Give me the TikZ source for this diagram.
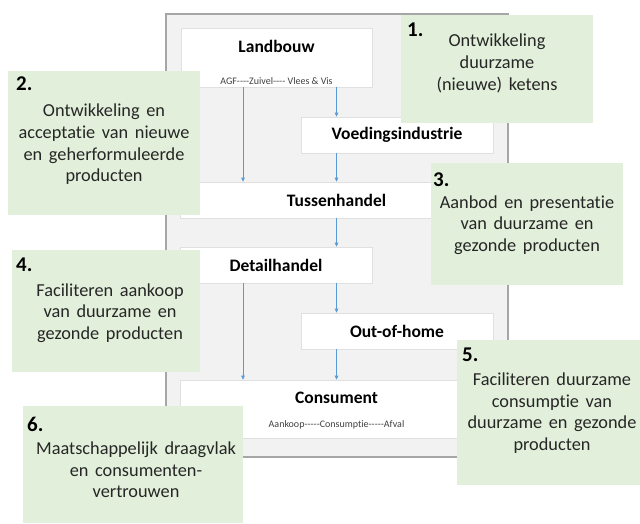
\documentclass[tikz,border=0pt]{standalone}
\usepackage{fontspec}
\setmainfont{Carlito}[WordSpace=1.6,Ligatures={NoCommon}]
\newfontfamily\subfont{Carlito}[Ligatures={TeXOff,NoCommon}]
\usetikzlibrary{arrows.meta,calc}
\definecolor{panelfill}{HTML}{F2F2F2}
\definecolor{panelline}{HTML}{A6A6A6}
\definecolor{arrowblue}{HTML}{5B9BD5}
\definecolor{goalgreen}{HTML}{E2EFDA}

\begin{document}
\begin{tikzpicture}[
  x=1pt,y=1pt,font=\fontsize{18.3}{21.7}\selectfont,
  chainbox/.style={draw=panelline,line width=1.2pt,fill=panelfill,inner sep=0pt},
  link/.style={draw=black!12,line width=.6pt,fill=white,inner sep=0pt,
    minimum width=192,minimum height=36,font=\fontsize{17.5}{20}\selectfont\bfseries},
  linkname/.style={inner sep=0pt,font=\fontsize{17.5}{20}\selectfont\bfseries},
  sub/.style={inner sep=0pt,text=black!75,font=\subfont\fontsize{10}{12}\selectfont},
  flow/.style={draw=arrowblue,line width=.7pt,-{Triangle[length=4pt,width=3.5pt]}},
  goal/.style={fill=goalgreen,inner sep=0pt},
  num/.style={anchor=north west,inner sep=0pt,font=\fontsize{21}{24}\selectfont\bfseries},
  aim/.style={align=center,inner sep=0pt,text=black!85}
]
\path[use as bounding box] (0,0) rectangle (640,-523);
\node[chainbox,minimum width=342,minimum height=443] (chain) at (337,-235.5) {};

\node[link,minimum width=191,minimum height=59] (land) at (276.5,-57.5) {};
\node[linkname] (landname) at ($(land.north)+(0,-19)$) {Landbouw};
\node[sub] (landsub) at ($(land.south)+(0,6)$) {AGF----Zuivel---- Vlees \& Vis};
\node[link] (voed) at (397,-135) {Voedingsindustrie};
\node[link,minimum width=313] (tus) at (336.5,-200) {Tussenhandel};
\node[link] (detail) at (276,-265) {Detailhandel};
\node[link] (ooh) at (397,-331) {Out-of-home};
\node[link,minimum width=313,minimum height=58] (cons) at (336.5,-409) {};
\node[linkname] (consname) at ($(cons.north)+(0,-18)$) {Consument};
\node[sub] (conssub) at ($(cons.south)+(0,13)$) {Aankoop-----Consumptie-----Afval};

\coordinate (lx) at (243,0);
\coordinate (rx) at (336.5,0);
\draw[flow] (land.south -| lx) -- (tus.north -| lx);
\draw[flow] (land.south -| rx) -- (voed.north -| rx);
\draw[flow] (voed.south -| rx) -- (tus.north -| rx);
\draw[flow] (tus.south -| rx) -- (detail.north -| rx);
\draw[flow] (detail.south -| lx) -- (cons.north -| lx);
\draw[flow] (detail.south -| rx) -- (ooh.north -| rx);
\draw[flow] (ooh.south -| rx) -- (cons.north -| rx);

\node[goal,minimum width=192,minimum height=108] (g1) at (497,-69) {};
\node[num] (n1) at (407,-23) {1.};
\node[aim] (t1) at (497,-63.5) {Ontwikkeling\\duurzame\\(nieuwe) ketens};

\node[goal,minimum width=192,minimum height=144] (g2) at (104,-143) {};
\node[num] (n2) at (16,-77) {2.};
\node[aim] (t2) at (104,-144.5) {Ontwikkeling en\\acceptatie van nieuwe\\en geherformuleerde\\producten};

\node[goal,minimum width=192,minimum height=122] (g3) at (527,-224) {};
\node[num] (n3) at (433,-173) {3.};
\node[aim] (t3) at (527,-225) {Aanbod en presentatie\\van duurzame en\\gezonde producten};

\node[goal,minimum width=188,minimum height=122] (g4) at (106,-311) {};
\node[num] (n4) at (16,-258) {4.};
\node[aim] (t4) at (110,-313) {Faciliteren aankoop\\van duurzame en\\gezonde producten};

\node[goal,minimum width=183,minimum height=145] (g5) at (548.5,-412.5) {};
\node[num] (n5) at (462,-348) {5.};
\node[aim] (t5) at (552,-413) {Faciliteren duurzame\\consumptie van\\duurzame en gezonde\\producten};

\node[goal,minimum width=220,minimum height=117] (g6) at (133,-464.5) {};
\node[num] (n6) at (27,-417) {6.};
\node[aim] (t6) at (136,-470) {Maatschappelijk draagvlak\\en consumenten-\\vertrouwen};
\end{tikzpicture}
\end{document}
